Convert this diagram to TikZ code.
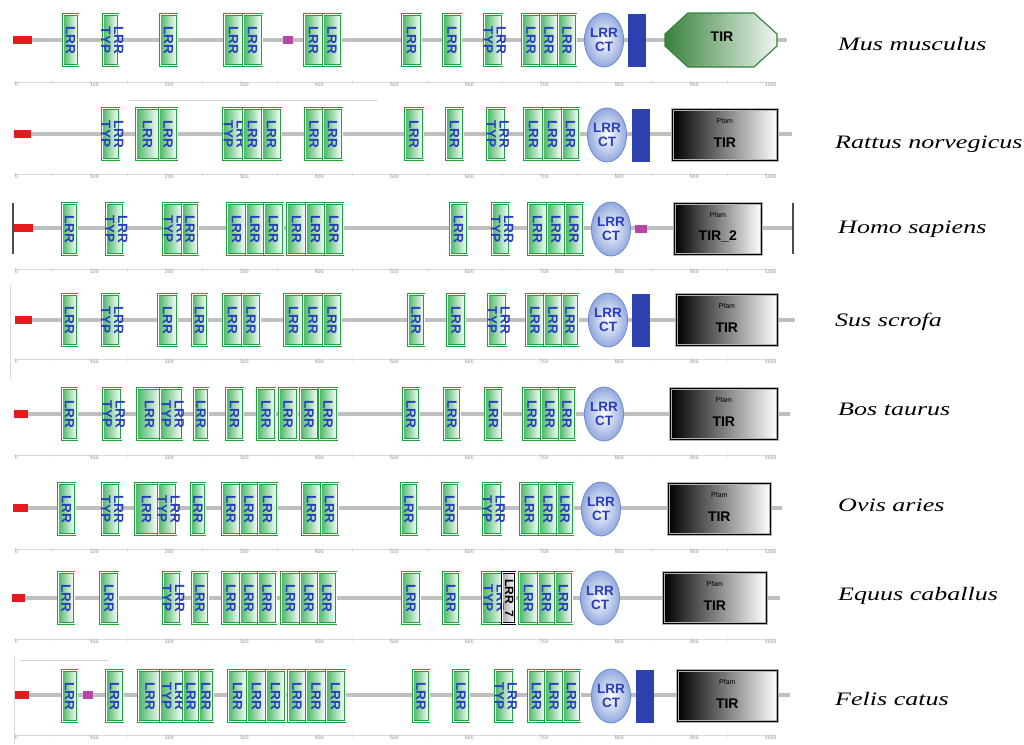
\documentclass[tikz,border=0pt]{standalone}
\usepackage{fontspec}
\setmainfont{Liberation Serif}
\setsansfont{Liberation Sans}
\newfontfamily\spfont[FakeStretch=1.37]{Liberation Serif}
\usetikzlibrary{shapes.geometric}

\definecolor{lrrgreen}{RGB}{25,165,60}
\definecolor{lrrtext}{RGB}{40,60,190}
\definecolor{tmblue}{RGB}{45,65,175}
\definecolor{ctblue}{RGB}{110,140,210}
\definecolor{sigred}{RGB}{230,25,30}
\definecolor{lcmag}{RGB}{185,70,165}
\definecolor{tirgreen}{RGB}{55,130,60}

\newcommand{\domL}{\makebox[0pt]{\rotatebox{-90}{LRR}}}
\newcommand{\domT}{\makebox[0pt]{\rotatebox{-90}{\begin{tabular}{@{}c@{}}LRR\\TYP\end{tabular}}}}
\newcommand{\domS}{\makebox[0pt]{\rotatebox{-90}{LRR\_7}}}

\begin{document}
\begin{tikzpicture}[x=1pt, y=-1pt,
  backbone/.style={draw=gray!50, line width=3.5pt},
  lrr/.style={rectangle, draw=lrrgreen, double=white, double distance=0.7pt, line width=0.8pt,
    left color=lrrgreen!80, right color=white, minimum height=51, inner sep=0pt, outer sep=0pt,
    anchor=west, text=lrrtext, font=\sffamily\bfseries\fontsize{13.5}{12}\selectfont},
  lrrseven/.style={lrr, draw=black, left color=gray!70, right color=white, text=black,
    font=\sffamily\bfseries\fontsize{12}{12}\selectfont},
  ct/.style={ellipse, draw=ctblue, line width=0.8pt, inner color=white, outer color=ctblue!75,
    minimum width=38, minimum height=54, inner sep=0pt, text=lrrtext, align=center,
    font=\sffamily\bfseries\fontsize{13.5}{14}\selectfont},
  tm/.style={rectangle, fill=tmblue, minimum width=18, minimum height=53, inner sep=0pt, anchor=west},
  sig/.style={rectangle, fill=sigred, minimum height=8, inner sep=0pt, anchor=west},
  lc/.style={rectangle, fill=lcmag, minimum height=8, inner sep=0pt, anchor=west},
  pfam/.style={rectangle, draw=gray!60, double=black, double distance=1.6pt, line width=0.6pt,
    left color=black, right color=white, minimum height=51, inner sep=0pt, anchor=west},
  pfamlbl/.style={font=\sffamily\fontsize{7}{7}\selectfont, inner sep=0pt},
  tirlbl/.style={font=\sffamily\bfseries\fontsize{14}{14}\selectfont, inner sep=0pt},
  species/.style={anchor=base west, font=\spfont\itshape\fontsize{19}{19}\selectfont, inner sep=0pt},
  ruler/.style={draw=gray!30, line width=0.4pt},
  rlbl/.style={font=\sffamily\fontsize{5}{5}\selectfont, text=gray!90, inner sep=0pt, anchor=west}]

\useasboundingbox (0,0) rectangle (1024,744);

% scale bars
\foreach \ry in {85,177,272,362,458,552,642,738} {
  \draw[ruler] (14,\ry-3) -- (775,\ry-3);
  \foreach \k in {0,...,20} \draw[ruler] (15+37.5*\k,\ry-4.5) -- (15+37.5*\k,\ry-1.5);
  \foreach \k in {0,...,10} \node[rlbl] (tk-\ry-\k) at (15+75*\k,\ry) {\the\numexpr\k*100\relax};
}

% Mus musculus
\draw[backbone] (13,40) -- (787,40);
\node[sig, minimum width=19] (r1sig) at (13,40) {};
\node[lc, minimum width=10] (r1lc) at (283,40) {};
\foreach \x/\w/\t [count=\i] in {63/15/L, 103/15/T, 160/17/L, 224/19/L, 243/19/L, 304/19/L, 323/18/L,
    402/19/L, 443/18/L, 484/18/T, 522/18/L, 540/18/L, 558/18/L}
  \node[lrr, minimum width=\w] (r1-\i) at (\x,40) {\csname dom\t\endcsname};
\node[ct] (r1ct) at (604,40) {LRR\\CT};
\node[tm] (r1tm) at (628,40) {};
\shadedraw[draw=tirgreen, line width=1.2pt, left color=tirgreen, right color=tirgreen!8]
  (665,34) -- (688,13) -- (754,13) -- (777,34) -- (777,46) -- (754,67) -- (688,67) -- (665,46) -- cycle;
\node[tirlbl] (r1tir) at (722,37) {TIR};
\node[species] (mus) at (838,50) {Mus musculus};

% Rattus norvegicus
\draw[gray!35, line width=1pt] (129,100) -- (378,100);
\draw[backbone] (14,134) -- (792,134);
\node[sig, minimum width=17] (r2sig) at (14,134) {};
\foreach \x/\w/\t [count=\i] in {102/17/T, 136/23/L, 159/18/L, 223/20/T, 243/19/L, 262/19/L, 305/18/L, 323/19/L,
    405/18/L, 446/17/L, 487/18/T, 524/19/L, 543/19/L, 562/17/L}
  \node[lrr, minimum width=\w] (r2-\i) at (\x,134) {\csname dom\t\endcsname};
\node[ct] (r2ct) at (607,135) {LRR\\CT};
\node[tm] (r2tm) at (632,135) {};
\node[pfam, minimum width=105] (r2tir) at (672,135) {};
\node[pfamlbl] (r2pf) at ([yshift=-12pt]r2tir.north) {Pfam};
\node[tirlbl] (r2tt) at ([yshift=-8pt]r2tir.center) {TIR};
\node[species] (rat) at (835,148) {Rattus norvegicus};

% Homo sapiens
\draw[backbone] (14,228) -- (793,228);
\draw[black!70, line width=1.5pt] (13,203) -- (13,254);
\draw[black!70, line width=1.5pt] (793,203) -- (793,254);
\node[sig, minimum width=19] (r3sig) at (14,228) {};
\foreach \x/\w/\t [count=\i] in {62/15/L, 106/17/T, 163/20/T, 182/16/L, 227/19/L, 246/18/L, 264/19/L, 287/19/L,
    306/19/L, 325/18/L, 450/17/L, 492/17/T, 528/19/L, 547/18/L, 565/18/L}
  \node[lrr, minimum width=\w] (r3-\i) at (\x,229) {\csname dom\t\endcsname};
\node[ct] (r3ct) at (611,229) {LRR\\CT};
\node[lc, minimum width=12] (r3lc) at (635,229) {};
\node[pfam, minimum width=87] (r3tir) at (674,229) {};
\node[pfamlbl] (r3pf) at ([yshift=-12pt]r3tir.north) {Pfam};
\node[tirlbl] (r3tt) at ([yshift=-7pt]r3tir.center) {TIR\_2};
\node[species] (homo) at (838,233) {Homo sapiens};

% Sus scrofa
\draw[gray!30, line width=0.6pt] (10,285) -- (10,378);
\draw[backbone] (15,320) -- (795,320);
\node[sig, minimum width=17] (r4sig) at (15,320) {};
\foreach \x/\w/\t [count=\i] in {62/15/L, 102/17/T, 158/19/L, 192/15/L, 223/19/L, 242/18/L, 284/19/L, 303/20/L,
    323/18/L, 408/16/L, 447/18/L, 488/18/T, 526/18/L, 544/18/L, 562/16/L}
  \node[lrr, minimum width=\w] (r4-\i) at (\x,320) {\csname dom\t\endcsname};
\node[ct] (r4ct) at (608,320) {LRR\\CT};
\node[tm] (r4tm) at (632,320) {};
\node[pfam, minimum width=101] (r4tir) at (676,320) {};
\node[pfamlbl] (r4pf) at ([yshift=-12pt]r4tir.north) {Pfam};
\node[tirlbl] (r4tt) at ([yshift=-8pt]r4tir.center) {TIR};
\node[species] (sus) at (835,326) {Sus scrofa};

% Bos taurus
\draw[backbone] (14,414) -- (790,414);
\node[sig, minimum width=14] (r5sig) at (14,414) {};
\foreach \x/\w/\t [count=\i] in {62/15/L, 103/18/T, 137/25/L, 160/22/T, 194/14/L, 226/17/L, 257/18/L, 279/18/L,
    300/18/L, 319/18/L, 403/16/L, 444/16/L, 485/17/L, 523/18/L, 541/18/L, 559/16/L}
  \node[lrr, minimum width=\w] (r5-\i) at (\x,414) {\csname dom\t\endcsname};
\node[ct] (r5ct) at (604,414) {LRR\\CT};
\node[pfam, minimum width=107] (r5tir) at (670,414) {};
\node[pfamlbl] (r5pf) at ([yshift=-12pt]r5tir.north) {Pfam};
\node[tirlbl] (r5tt) at ([yshift=-8pt]r5tir.center) {TIR};
\node[species] (bos) at (838,415) {Bos taurus};

% Ovis aries
\draw[backbone] (13,508) -- (782,508);
\node[sig, minimum width=15] (r6sig) at (13,508) {};
\foreach \x/\w/\t [count=\i] in {58/17/L, 102/17/T, 135/23/L, 158/18/T, 191/14/L, 222/18/L, 240/18/L, 258/19/L,
    302/19/L, 321/17/L, 401/16/L, 442/16/L, 483/18/T, 520/19/L, 539/18/L, 557/16/L}
  \node[lrr, minimum width=\w] (r6-\i) at (\x,509) {\csname dom\t\endcsname};
\node[ct] (r6ct) at (601,509) {LRR\\CT};
\node[pfam, minimum width=102] (r6tir) at (668,509) {};
\node[pfamlbl] (r6pf) at ([yshift=-12pt]r6tir.north) {Pfam};
\node[tirlbl] (r6tt) at ([yshift=-8pt]r6tir.center) {TIR};
\node[species] (ovis) at (838,511) {Ovis aries};

% Equus caballus
\draw[backbone] (12,598) -- (780,598);
\node[sig, minimum width=13] (r7sig) at (12,598) {};
\foreach \x/\w/\t [count=\i] in {58/16/L, 100/18/L, 163/17/T, 192/16/L, 222/18/L, 240/18/L, 258/18/L, 281/19/L,
    300/18/L, 318/18/L, 402/18/L, 443/16/L, 482/22/T, 519/19/L, 538/17/L, 555/17/L}
  \node[lrr, minimum width=\w] (r7-\i) at (\x,598) {\csname dom\t\endcsname};
\node[lrrseven, minimum width=13] (r7lrr7) at (502,598) {\domS};
\node[ct] (r7ct) at (600,598) {LRR\\CT};
\node[pfam, minimum width=103] (r7tir) at (663,598) {};
\node[pfamlbl] (r7pf) at ([yshift=-12pt]r7tir.north) {Pfam};
\node[tirlbl] (r7tt) at ([yshift=-8pt]r7tir.center) {TIR};
\node[species] (equus) at (838,600) {Equus caballus};

% Felis catus
\draw[gray!35, line width=1pt] (20,660) -- (109,660);
\draw[gray!30, line width=0.6pt] (14,655) -- (14,744);
\draw[backbone] (15,695) -- (790,695);
\node[sig, minimum width=14] (r8sig) at (15,695) {};
\node[lc, minimum width=10] (r8lc) at (83,695) {};
\foreach \x/\w/\t [count=\i] in {62/15/L, 106/17/L, 138/24/L, 160/23/T, 183/16/L, 199/14/L, 228/19/L, 247/19/L,
    266/19/L, 288/18/L, 306/20/L, 326/19/L, 413/16/L, 453/16/L, 495/18/T, 528/17/L, 545/18/L, 563/17/L}
  \node[lrr, minimum width=\w] (r8-\i) at (\x,696) {\csname dom\t\endcsname};
\node[ct] (r8ct) at (611,696) {LRR\\CT};
\node[tm] (r8tm) at (636,696) {};
\node[pfam, minimum width=100] (r8tir) at (677,696) {};
\node[pfamlbl] (r8pf) at ([yshift=-12pt]r8tir.north) {Pfam};
\node[tirlbl] (r8tt) at ([yshift=-8pt]r8tir.center) {TIR};
\node[species] (felis) at (835,705) {Felis catus};
\end{tikzpicture}
\end{document}
